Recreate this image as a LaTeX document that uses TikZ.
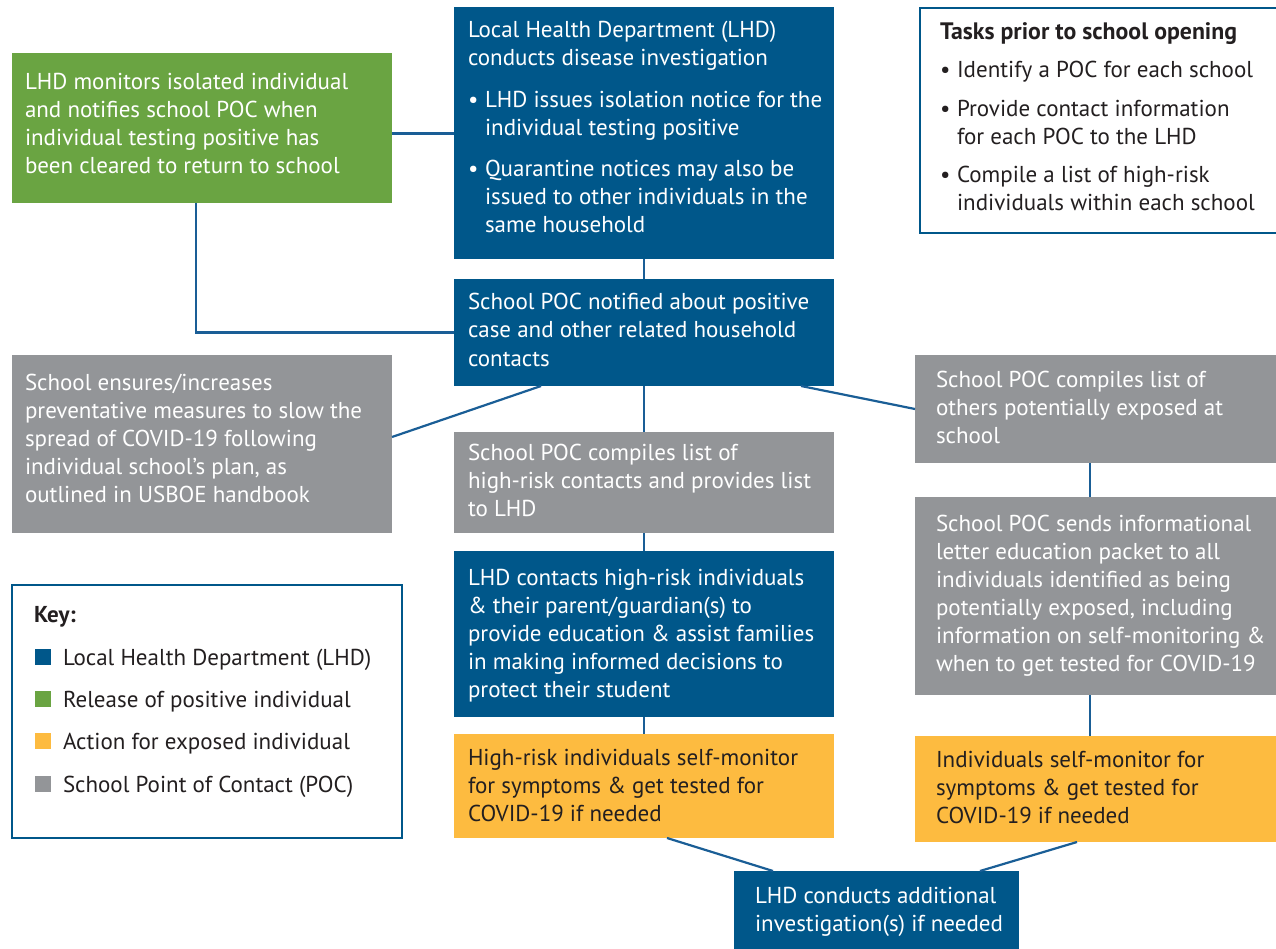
\documentclass[tikz,border=0pt]{standalone}
\usepackage{fontspec}
\setmainfont{PT Sans}
\definecolor{lhd}{HTML}{00578A}
\definecolor{grn}{HTML}{6AA442}
\definecolor{gry}{HTML}{939598}
\definecolor{ylw}{HTML}{FDBB40}
\definecolor{linec}{HTML}{1A5E96}
\definecolor{ink}{HTML}{231F20}
\newcommand\mainf{\fontsize{23}{28}\selectfont}
\newcommand\bul{\makebox[17pt][l]{\textbullet}}
\newcommand\ind{\hspace*{17pt}}
\newcommand\tb[1]{\parbox[t]{440pt}{\raggedright #1}}
\begin{document}
\begin{tikzpicture}[x=1pt,y=-1pt,
  box/.style={rectangle, draw=none, inner sep=0pt, outer sep=0pt, anchor=north west},
  txt/.style={inner sep=0pt, outer sep=0pt, anchor=base west, font=\mainf, text=white},
  dtxt/.style={txt, text=ink},
  frame/.style={draw=lhd, line width=2pt, fill=none},
  conn/.style={draw=linec, line width=2.2pt}]
\useasboundingbox (0,0) rectangle (1276,949);
\fill[white] (0,0) rectangle (1276,949);

% boxes
\node[box, fill=grn, minimum width=380pt, minimum height=150pt] (green) at (12,53) {};
\node[box, fill=lhd, minimum width=380pt, minimum height=252pt] (lhd1) at (454,7) {};
\node[box, fill=lhd, minimum width=380pt, minimum height=107pt] (notif) at (454,279) {};
\node[box, fill=gry, minimum width=380pt, minimum height=178pt] (lgray) at (12,355) {};
\node[box, fill=gry, minimum width=361pt, minimum height=108pt] (rgray1) at (915,355) {};
\node[box, fill=gry, minimum width=380pt, minimum height=101pt] (mgray) at (454,432) {};
\node[box, fill=gry, minimum width=361pt, minimum height=198pt] (rgray2) at (915,497) {};
\node[box, fill=lhd, minimum width=380pt, minimum height=166pt] (lhdc) at (454,551) {};
\node[box, fill=ylw, minimum width=380pt, minimum height=104pt] (ymid) at (454,734) {};
\node[box, fill=ylw, minimum width=361pt, minimum height=106pt] (yright) at (915,736) {};
\node[box, fill=lhd, minimum width=285pt, minimum height=78pt] (bottom) at (734,871) {};
\node[box, frame, minimum width=360pt, minimum height=225pt] (tasks) at (920,8) {};
\node[box, frame, minimum width=390pt, minimum height=253pt] (key) at (12,585) {};

% texts
\node[txt] (greent) at (25,90) {\tb{LHD monitors isolated individual\\ and notifies school POC when\\ individual testing positive has\\ been cleared to return to school}};
\node[txt] (lhd1t) at (468,38) {\tb{Local Health Department (LHD)\\ conducts disease investigation\\[14pt]
 \bul LHD issues isolation notice for the\\ \ind individual testing positive\\[13pt]
 \bul Quarantine notices may also be\\ \ind issued to other individuals in the\\ \ind same household}};
\node[dtxt] (taskst) at (940,40) {\tb{{\fontsize{23.8}{28}\selectfont\textbf{Tasks prior to school opening}}\\[10pt]
 \bul Identify a POC for each school\\[11pt]
 \bul Provide contact information\\ \ind for each POC to the LHD\\[10pt]
 \bul Compile a list of high-risk\\ \ind individuals within each school}};
\node[txt] (notift) at (468,310) {\tb{School POC notified about positive\\ case and other related household\\ contacts}};
\node[txt] (lgrayt) at (25,390) {\tb{School ensures/increases\\ preventative measures to slow the\\ spread of COVID-19 following\\ individual school’s plan, as\\ outlined in USBOE handbook}};
\node[txt] (rgray1t) at (936,387) {\tb{School POC compiles list of\\ others potentially exposed at\\ school}};
\node[txt] (mgrayt) at (468,460) {\tb{School POC compiles list of\\ high-risk contacts and provides list\\ to LHD}};
\node[txt] (rgray2t) at (936,531) {\tb{School POC sends informational\\ letter education packet to all\\ individuals identified as being\\ potentially exposed, including\\ information on self-monitoring \&\\ when to get tested for COVID-19}};
\node[txt] (lhdct) at (468,585) {\tb{LHD contacts high-risk individuals\\ \& their parent/guardian(s) to\\ provide education \& assist families\\ in making informed decisions to\\ protect their student}};
\node[dtxt] (ymidt) at (468,765) {\tb{High-risk individuals self-monitor\\ for symptoms \& get tested for\\ COVID-19 if needed}};
\node[dtxt] (yrightt) at (936,767) {\tb{Individuals self-monitor for\\ symptoms \& get tested for\\ COVID-19 if needed}};
\node[txt] (bottomt) at (755,903) {\tb{LHD conducts additional\\ investigation(s) if needed}};

% key
\node[dtxt] (keyt) at (34,622) {\textbf{Key:}};
\node[box, fill=lhd, minimum size=16pt] (k1) at (35,649) {};
\node[box, fill=grn, minimum size=16pt] (k2) at (35,691) {};
\node[box, fill=ylw, minimum size=16pt] (k3) at (35,733) {};
\node[box, fill=gry, minimum size=16pt] (k4) at (35,776) {};
\node[dtxt] (k1t) at (63,665) {Local Health Department (LHD)};
\node[dtxt] (k2t) at (63,707) {Release of positive individual};
\node[dtxt] (k3t) at (63,749) {Action for exposed individual};
\node[dtxt] (k4t) at (63,792) {School Point of Contact (POC)};

% connectors
\draw[conn] ([yshift=-5.5pt]green.east) -- ([yshift=-5.5pt]green.east -| lhd1.west);
\draw[conn] ([xshift=-6pt]green.south) |- (notif.west);
\draw[conn] (lhd1.south) -- (notif.north);
\draw[conn] (notif.south) -- (mgray.north);
\draw[conn] ([xshift=87pt]notif.south west) -- ([yshift=7pt]lgray.east);
\draw[conn] ([xshift=-33pt]notif.south east) -- (rgray1.west);
\draw[conn] (mgray.south) -- (lhdc.north);
\draw[conn] (lhdc.south) -- (ymid.north);
\draw[conn] ([xshift=-5.5pt]rgray1.south) -- ([xshift=-5.5pt]rgray1.south |- rgray2.north);
\draw[conn] ([xshift=-5.5pt]rgray2.south) -- ([xshift=-5.5pt]rgray2.south |- yright.north);
\draw[conn] ([xshift=23pt]ymid.south) -- ([xshift=39pt]bottom.north west);
\draw[conn] ([xshift=162pt]yright.south west) -- ([xshift=-39pt]bottom.north east);
\end{tikzpicture}
\end{document}
